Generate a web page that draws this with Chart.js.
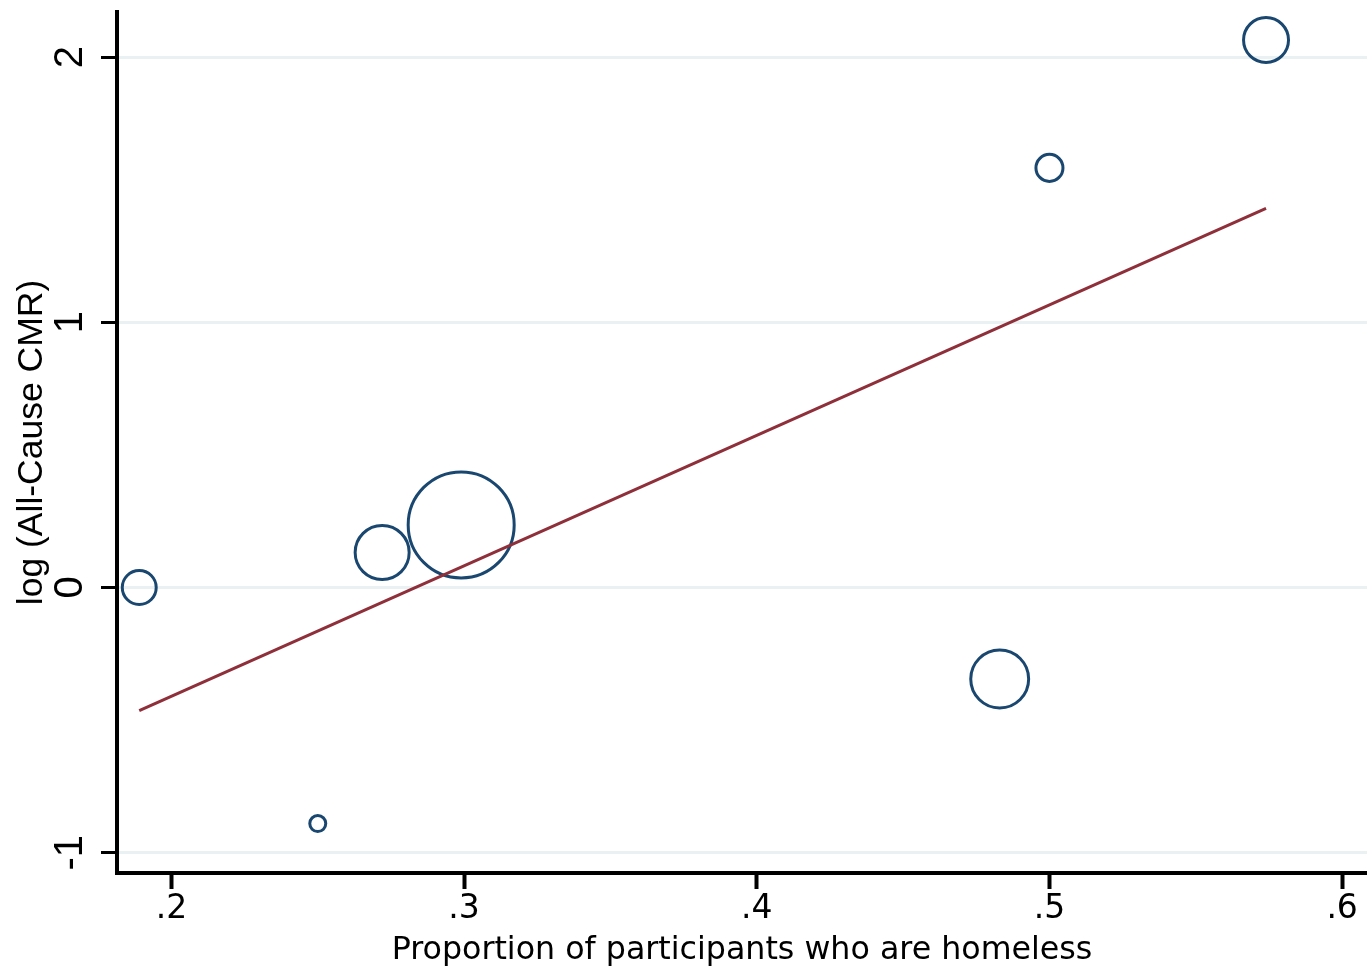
<!DOCTYPE html>
<html>
<head>
<meta charset="utf-8">
<script src="https://cdn.jsdelivr.net/npm/chart.js@4.4.1/dist/chart.umd.min.js"></script>
<style>
html,body{margin:0;padding:0;background:#ffffff;}
#wrap{position:relative;width:1367px;height:973px;}
</style>
</head>
<body>
<div id="wrap"><canvas id="c"></canvas></div>
<script>
// ---- data ----
const homelessProportion = [0.189, 0.250, 0.272, 0.299, 0.483, 0.500, 0.574];
const logAllCauseCMR     = [0.000, -0.890, 0.132, 0.236, -0.345, 1.582, 2.064];
const studyWeights       = [4.5, 1.0, 11.4, 43.9, 13.1, 2.85, 7.9];   // relative analytic weights (marker area)
const fitX = [0.189, 0.574];
const fitY = [-0.464, 1.429];
const xTicks = [0.2, 0.3, 0.4, 0.5, 0.6];
const xTickLabels = ['.2', '.3', '.4', '.5', '.6'];
const yTicks = [-1, 0, 1, 2];
const yTickLabels = ['-1', '0', '1', '2'];
const xTitle = 'Proportion of participants who are homeless';
const yTitle = 'log (All-Cause CMR)';

const scatterPoints = homelessProportion.map((x, i) => ({x: x, y: logAllCauseCMR[i]}));
const fitPoints = fitX.map((x, i) => ({x: x, y: fitY[i]}));

new Chart(document.getElementById('c'), {
  type: 'scatter',
  data: {
    datasets: [
      {
        type: 'line',
        data: fitPoints,
        borderColor: '#8e2f3a',
        borderWidth: 3,
        pointRadius: 0,
        fill: false,
        tension: 0,
        clip: false
      },
      {
        type: 'scatter',
        data: scatterPoints,
        backgroundColor: 'rgba(0,0,0,0)',
        borderColor: '#1a476f',
        borderWidth: 3,
        pointStyle: 'circle',
        clip: false,
        pointRadius: ctx => 8 * Math.sqrt(studyWeights[ctx.dataIndex]),
        pointHoverRadius: ctx => 8 * Math.sqrt(studyWeights[ctx.dataIndex])
      }
    ]
  },
  options: {
    responsive: true,
    maintainAspectRatio: false,
    animation: false,
    events: [],
    layout: {autoPadding: false, padding: {top: 12, right: 0, bottom: 0, left: 0}},
    plugins: {legend: {display: false}, tooltip: {enabled: false}},
    scales: {
      x: {
        type: 'linear',
        min: 0.1814,
        max: 0.6085,
        afterBuildTicks: s => { s.ticks = xTicks.map(v => ({value: v})); },
        afterFit: s => { s.height = 100; s.paddingLeft = 0; s.paddingRight = 0; },
        ticks: {
          callback: (v, i) => xTickLabels[i],
          color: '#000',
          font: {family: 'DejaVu Sans', size: 33},
          padding: 1,
          maxRotation: 0,
          minRotation: 0,
          autoSkip: false
        },
        grid: {
          drawOnChartArea: false,
          drawTicks: true,
          tickLength: 16,
          tickColor: '#000',
          tickWidth: 4
        },
        border: {display: true, color: '#000', width: 4},
        title: {
          display: true,
          text: xTitle,
          color: '#000',
          font: {family: 'DejaVu Sans', size: 31.7},
          padding: {top: 0, bottom: 3}
        }
      },
      y: {
        type: 'linear',
        min: -1.0765,
        max: 2.1697,
        afterBuildTicks: s => { s.ticks = yTicks.map(v => ({value: v})); },
        afterFit: s => { s.width = 117; s.paddingTop = 0; s.paddingBottom = 0; },
        ticks: {
          callback: (v, i) => yTickLabels[i],
          color: '#000',
          font: {family: 'Liberation Sans', size: 40},
          padding: 12,
          minRotation: 90,
          maxRotation: 90,
          crossAlign: 'center',
          autoSkip: false
        },
        grid: {
          color: '#e9f1f3',
          lineWidth: 3,
          drawOnChartArea: true,
          drawTicks: true,
          tickLength: 16,
          tickColor: '#000',
          tickWidth: 3
        },
        border: {display: true, color: '#000', width: 4},
        title: {
          display: true,
          text: yTitle,
          color: '#000',
          font: {family: 'Liberation Sans', size: 35.5},
          padding: {top: 11, bottom: 0}
        }
      }
    }
  }
});
</script>
</body>
</html>
